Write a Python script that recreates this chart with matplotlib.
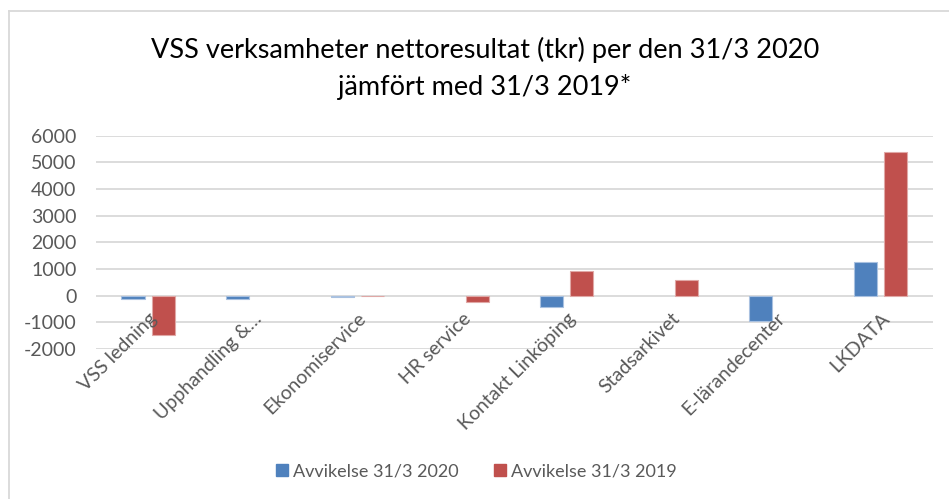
import numpy as np
import matplotlib.pyplot as plt
from matplotlib.lines import Line2D

categories = ["VSS ledning", "Upphandling &…", "Ekonomiservice", "HR service",
              "Kontakt Linköping", "Stadsarkivet", "E-lärandecenter", "LKDATA"]
avv_2020 = [-130, -130, -60, np.nan, -410, np.nan, -950, 1280]
avv_2019 = [-1470, np.nan, -10, -240, 930, 580, np.nan, 5380]

blue = "#4f81bd"
red = "#c0504d"
grey = "#595959"

plt.rcParams["font.family"] = ["Lato", "DejaVu Sans"]
plt.rcParams["axes.unicode_minus"] = False

fig = plt.figure(figsize=(9.49, 4.99), dpi=100)
ax = fig.add_axes([0.101, 0.3006, 0.882, 0.4275])

x = np.arange(len(categories))
w = 0.22
ax.bar(x - 0.145, avv_2020, w, color=blue, edgecolor="#a9c1e0", linewidth=0.8,
       label="Avvikelse 31/3 2020", zorder=3)
ax.bar(x + 0.145, avv_2019, w, color=red, edgecolor="#e0a8a6", linewidth=0.8,
       label="Avvikelse 31/3 2019", zorder=3)

ax.set_xlim(-0.5, len(categories) - 0.5)
ax.set_ylim(-2000, 6000)
ax.set_yticks(range(-2000, 6001, 1000))
ax.yaxis.grid(True, color="#d9d9d9", linewidth=1.3, zorder=0)
ax.set_axisbelow(True)
ax.xaxis.set_zorder(5)
for s in ax.spines.values():
    s.set_visible(False)
# category labels sit at the zero line, like in Excel
ax.spines["bottom"].set_position(("data", 0))
ax.tick_params(axis="y", length=0, labelsize=14, labelcolor=grey, pad=14)
ax.tick_params(axis="x", length=0, labelsize=14, labelcolor=grey, pad=10)
ax.set_xticks(x)
ax.set_xticklabels(categories, rotation=45, ha="right", va="top",
                   rotation_mode="anchor")

fig.text(0.511, 0.9, "VSS verksamheter nettoresultat (tkr) per den 31/3 2020",
         ha="center", va="center", fontsize=19.5, color="black")
fig.text(0.511, 0.825, "jämfört med 31/3 2019*", ha="center", va="center",
         fontsize=19.5, color="black")

handles = [Line2D([], [], marker="s", color="none", markerfacecolor=blue,
                  markeredgecolor=blue, markersize=9),
           Line2D([], [], marker="s", color="none", markerfacecolor=red,
                  markeredgecolor=red, markersize=9)]
fig.legend(handles, ["Avvikelse 31/3 2020", "Avvikelse 31/3 2019"],
           loc="center", bbox_to_anchor=(0.5, 0.055), ncol=2, frameon=False,
           fontsize=13, labelcolor=grey, handletextpad=0.1, columnspacing=1.8,
           handlelength=1.0)

# chart frame (left and top edges visible)
fig.add_artist(Line2D([9 / 949, 9 / 949], [0, 1 - 11 / 499],
                      transform=fig.transFigure, color="#d9d9d9", lw=1.3))
fig.add_artist(Line2D([9 / 949, 1], [1 - 11 / 499, 1 - 11 / 499],
                      transform=fig.transFigure, color="#d9d9d9", lw=1.3))

fig.savefig("out.png", dpi=100)
